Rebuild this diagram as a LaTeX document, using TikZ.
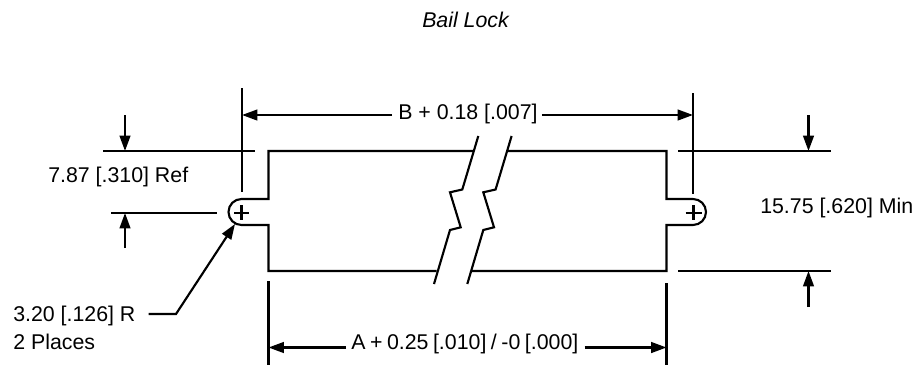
\documentclass[tikz,border=0pt]{standalone}
\usepackage{fontspec}
\setmainfont{Liberation Sans}
\usetikzlibrary{arrows.meta, calc}
\tikzstyle{partLine}=[line width=1.6pt, line join=miter]
\tikzstyle{extLine}=[line width=1.6pt]
\tikzstyle{dimArrow}=[line width=1.6pt, -{Triangle[length=11.5pt,width=8pt]}]
\tikzstyle{dimLabel}=[inner sep=0pt, font=\fontsize{16pt}{19pt}\selectfont, align=left]
\begin{document}
\begin{tikzpicture}[x=0.75pt, y=-0.75pt]
    \useasboundingbox (0, 0) rectangle (915, 365);

    % Labels
    \node[dimLabel, font=\fontsize{16pt}{19pt}\selectfont\itshape, anchor=base west] (title) at (422, 27) {Bail Lock};
    \node[dimLabel, anchor=base west] (dimRef) at (48, 182.5) {7.87 [.310] Ref};
    \node[dimLabel, anchor=base west] (dimMin) at (760, 213) {15.75 [.620] Min};
    \node[dimLabel, anchor=base west] (dimR) at (13, 321.5) {3.20 [.126] R};
    \node[dimLabel, anchor=base west] (dimPlaces) at (13, 349) {2 Places};
    \node[dimLabel, anchor=base west] (dimB) at (398, 119.5) {B + 0.18 [.007]};
    \node[dimLabel, anchor=base west] (dimA) at (351, 349.5) {\spaceskip=3.4pt A + 0.25 [.010] / -0 [.000]};

    % Slot Centres
    \coordinate (slotL) at (241.5, 212);
    \coordinate (slotR) at (693, 212);

    % Part Outline
    \draw[partLine] (473, 151) -- (268.5, 151) -- (268.5, 199) -- (241.5, 199)
        arc[start angle=-90, end angle=-270, radius=13] -- (268.5, 225) -- (268.5, 271) -- (436.5, 271);
    \draw[partLine] (508, 151) -- (666.5, 151) -- (666.5, 199) -- (693, 199)
        arc[start angle=-90, end angle=90, radius=13] -- (666.5, 225) -- (666.5, 271) -- (471.5, 271);

    % Break Lines
    \draw[partLine] (478.3, 136) -- (462.3, 189.5) -- (450, 192.3) -- (460.7, 227.3) -- (450, 230) -- (434, 284);
    \draw[partLine] (511.6, 136) -- (495.6, 189.5) -- (483.3, 192.3) -- (494, 227.3) -- (483.3, 230) -- (467.3, 284);

    % Centre Marks
    \draw[extLine] ($(slotL)+(-7.5, 1)$) -- ($(slotL)+(7.5, 1)$);
    \draw[extLine] ($(slotL)+(0, -7)$) -- ($(slotL)+(0, 8)$);
    \draw[extLine] ($(slotR)+(-7.5, 1)$) -- ($(slotR)+(8.5, 1)$);
    \draw[extLine] ($(slotR)+(0.5, -7)$) -- ($(slotR)+(0.5, 8)$);

    % Extension Lines
    \draw[extLine] (242, 88) -- (242, 192);
    \draw[extLine] (693, 93) -- (693, 194);
    \draw[extLine] (268.5, 281) -- (268.5, 365);
    \draw[extLine] (666.5, 283) -- (666.5, 365);
    \draw[extLine] (103, 151) -- (255, 151);
    \draw[extLine] (111, 213) -- (217, 213);
    \draw[extLine] (678, 151) -- (831, 151);
    \draw[extLine] (678, 271) -- (831, 271);

    % Dimension Arrows
    \draw[dimArrow] ($(dimB.base west)+(-6, -4.5)$) -- (242, 115);
    \draw[dimArrow] ($(dimB.base east)+(4, -4.5)$) -- (693, 115);
    \draw[dimArrow] ($(dimA.base west)+(-5, -2)$) -- (268.5, 347.5);
    \draw[dimArrow] ($(dimA.base east)+(6, -2)$) -- (666.5, 347.5);
    \draw[dimArrow] (125, 115) -- (125, 151);
    \draw[dimArrow] (125, 248) -- (125, 213);
    \draw[dimArrow] (808.5, 115) -- (808.5, 151);
    \draw[dimArrow] (808.5, 307) -- (808.5, 271);

    % Radius Leader
    \draw[dimArrow] (dimR.base east) ++(13, -7.5) -- (176, 314) -- (235, 224);
\end{tikzpicture}
\end{document}
